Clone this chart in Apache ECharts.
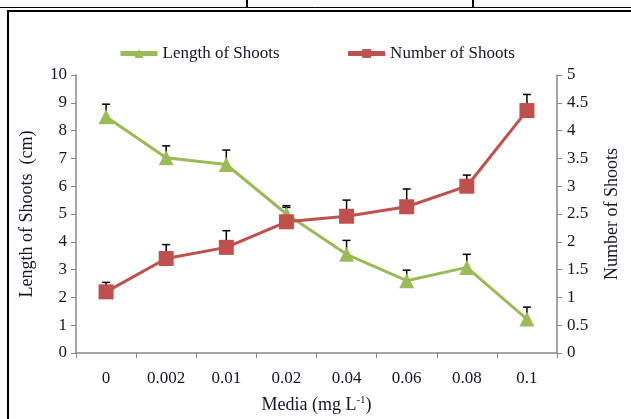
<!DOCTYPE html>
<html>
<head>
<meta charset="utf-8">
<script src="https://cdn.jsdelivr.net/npm/echarts@6/dist/echarts.min.js"></script>
<style>
    html, body { margin: 0; padding: 0; background: #fff; }
    #chart { width: 631px; height: 419px; }
</style>
</head>
<body>
<div id="chart"></div>
<script>
// media concentrations (mg L-1)
const media = ['0', '0.002', '0.01', '0.02', '0.04', '0.06', '0.08', '0.1'];
// length of shoots (cm), left axis
const shootLength = [8.5, 7.02, 6.78, 5.0, 3.55, 2.6, 3.08, 1.22];
const shootLengthErr = [8.95, 7.45, 7.3, 5.3, 4.05, 2.98, 3.55, 1.65];
// number of shoots, right axis
const shootNumber = [1.1, 1.7, 1.9, 2.36, 2.46, 2.63, 3.0, 4.36];
const shootNumberErr = [1.27, 1.95, 2.2, 2.62, 2.75, 2.95, 3.2, 4.65];

const font = '"Liberation Serif", "Times New Roman", serif';
const textColor = '#161624';
const axisColor = '#868686';

function errorSeries(axisIndex, values, tops) {
    return {
        type: 'custom',
        yAxisIndex: axisIndex,
        z: 1,
        silent: true,
        encode: { x: 0, y: [1, 2] },
        data: values.map(function (v, i) { return [i, v, tops[i]]; }),
        renderItem: function (params, api) {
            const p = api.coord([api.value(0), api.value(1)]);
            const t = api.coord([api.value(0), api.value(2)]);
            const style = { stroke: '#000', lineWidth: 1.5 };
            return {
                type: 'group',
                children: [
                    { type: 'line', shape: { x1: p[0], y1: p[1], x2: p[0], y2: t[1] }, style: style },
                    { type: 'line', shape: { x1: p[0] - 4, y1: t[1], x2: p[0] + 4, y2: t[1] }, style: style }
                ]
            };
        }
    };
}

const chart = echarts.init(document.getElementById('chart'));
chart.setOption({
    animation: false,
    textStyle: { fontFamily: font, color: textColor },
    graphic: [
        { type: 'line', shape: { x1: 0, y1: 7.5, x2: 631, y2: 7.5 }, style: { stroke: '#000', lineWidth: 1 } },
        { type: 'line', shape: { x1: 247, y1: 0, x2: 247, y2: 8 }, style: { stroke: '#000', lineWidth: 2 } },
        { type: 'line', shape: { x1: 473, y1: 0, x2: 473, y2: 8 }, style: { stroke: '#000', lineWidth: 2 } },
        { type: 'line', shape: { x1: 7, y1: 11, x2: 631, y2: 11 }, style: { stroke: '#000', lineWidth: 2 } },
        { type: 'line', shape: { x1: 8, y1: 10, x2: 8, y2: 419 }, style: { stroke: '#000', lineWidth: 2 } }
    ],
    legend: {
        top: 40,
        left: 113,
        itemWidth: 37,
        itemHeight: 11,
        itemGap: 66,
        lineStyle: { width: 5 },
        textStyle: { fontFamily: font, fontSize: 17, color: textColor },
        data: ['Length of Shoots', 'Number of Shoots']
    },
    grid: { left: 76, right: 74, top: 75, bottom: 64 },
    xAxis: {
        type: 'category',
        data: media,
        name: 'Media (mg L{sup|-1})',
        nameLocation: 'middle',
        nameGap: 42,
        nameTextStyle: {
            fontFamily: font, fontSize: 18, color: textColor,
            rich: { sup: { fontFamily: font, fontSize: 11, color: textColor, padding: [0, 0, 9, 0] } }
        },
        axisLine: { lineStyle: { color: axisColor, width: 1.5 } },
        axisTick: { show: true, length: 5, lineStyle: { color: axisColor } },
        axisLabel: { fontFamily: font, fontSize: 17, color: textColor, margin: 17 }
    },
    yAxis: [
        {
            type: 'value',
            min: 0, max: 10, interval: 1,
            name: 'Length of Shoots  (cm)',
            nameLocation: 'middle',
            nameGap: 40,
            nameRotate: 90,
            nameTextStyle: { fontFamily: font, fontSize: 18, color: textColor },
            splitLine: { show: false },
            axisLine: { show: true, lineStyle: { color: axisColor, width: 1.5 } },
            axisTick: { show: true, length: 5, lineStyle: { color: axisColor } },
            axisLabel: { fontFamily: font, fontSize: 17, color: textColor, margin: 9 }
        },
        {
            type: 'value',
            min: 0, max: 5, interval: 0.5,
            name: 'Number of Shoots',
            nameLocation: 'middle',
            nameGap: 46,
            nameRotate: 90,
            nameTextStyle: { fontFamily: font, fontSize: 18, color: textColor },
            splitLine: { show: false },
            axisLine: { show: true, lineStyle: { color: axisColor, width: 1.5 } },
            axisTick: { show: true, length: 5, lineStyle: { color: axisColor } },
            axisLabel: { fontFamily: font, fontSize: 17, color: textColor, margin: 10 }
        }
    ],
    series: [
        errorSeries(0, shootLength, shootLengthErr),
        errorSeries(1, shootNumber, shootNumberErr),
        {
            name: 'Length of Shoots',
            type: 'line',
            yAxisIndex: 0,
            z: 3,
            data: shootLength,
            symbol: 'triangle',
            symbolSize: 15,
            itemStyle: { color: '#9BBB59' },
            lineStyle: { color: '#9BBB59', width: 3 }
        },
        {
            name: 'Number of Shoots',
            type: 'line',
            yAxisIndex: 1,
            z: 3,
            data: shootNumber,
            symbol: 'rect',
            symbolSize: 15,
            itemStyle: { color: '#C0504D' },
            lineStyle: { color: '#C0504D', width: 3 }
        }
    ]
});
</script>
</body>
</html>
